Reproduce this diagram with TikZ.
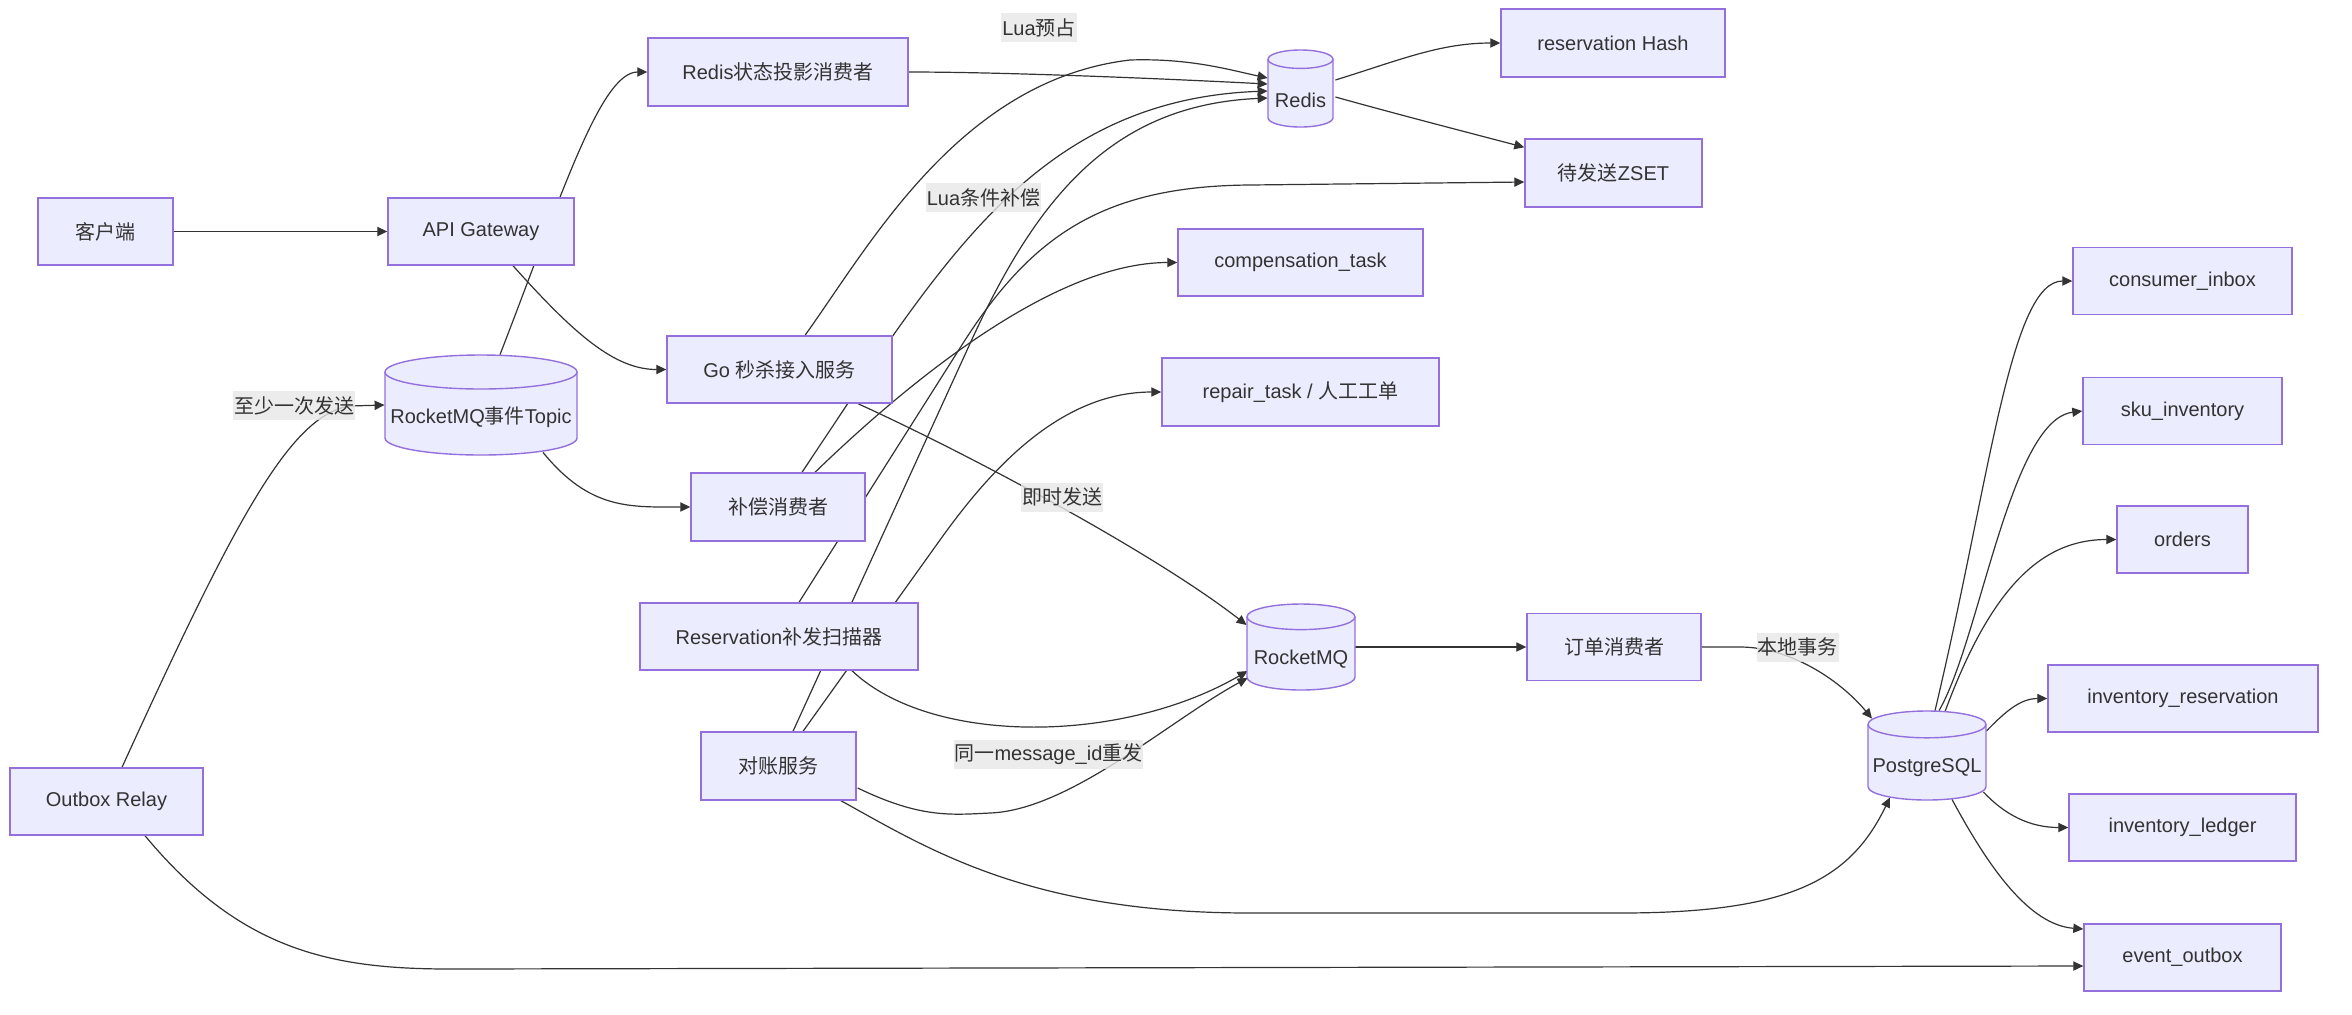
\documentclass[tikz,border=0pt]{standalone}
\usepackage{fontspec}
\setmainfont{Liberation Sans}
\newfontfamily\cjkfont{Noto Sans CJK SC}
\newcommand\zh[1]{{\cjkfont #1}}
\usetikzlibrary{arrows.meta,calc,backgrounds}
\definecolor{nodefill}{HTML}{ECECFF}
\definecolor{nodeline}{HTML}{9370DB}
\definecolor{edgecol}{HTML}{333333}
\definecolor{txt}{HTML}{333333}
\definecolor{lblbg}{HTML}{E8E8E8}
\newcommand\mycyl[5]{%
 \path[fill=nodefill, draw=nodeline, line width=0.7pt] ({#1-#4},{-#2-#5}) -- ({#1-#4},{-#3+#5}) arc[start angle=180, end angle=360, x radius=#4, y radius=#5] -- ({#1+#4},{-#2-#5}) arc[start angle=0, end angle=180, x radius=#4, y radius=#5] -- cycle;
 \draw[draw=nodeline, line width=0.7pt] ({#1-#4},{-#2-#5}) arc[start angle=180, end angle=360, x radius=#4, y radius=#5];
}
\begin{document}
\begin{tikzpicture}[x=0.5pt,y=0.5pt,
  box/.style={draw=nodeline, fill=nodefill, line width=0.7pt, minimum height=33.5pt, inner sep=0pt, text=txt, font=\fontsize{10pt}{12pt}\selectfont},
  cylshape/.style={inner sep=0pt, draw=none},
  ctext/.style={inner sep=0pt, text=txt, font=\fontsize{10pt}{12pt}\selectfont},
  lbl/.style={fill=lblbg, fill opacity=0.8, text opacity=1, inner xsep=0.5pt, inner ysep=0pt, minimum height=14.5pt, text=txt, font=\fontsize{10pt}{12pt}\selectfont},
  edge/.style={draw=edgecol, line width=0.6pt},
  arr/.style={edge, -{Triangle[length=5pt,width=4.6pt]}}
]
\useasboundingbox (0,0) rectangle (2352,-1014);

% boxes
\node[box, minimum width=67.5pt] (client) at (105.5,-231.5) {\zh{客户端}};
\node[box, minimum width=93pt] (gw) at (481,-231.5) {API Gateway};
\node[box, minimum width=130pt, minimum height=34pt] (rproj) at (778,-72) {Redis\zh{状态投影消费者}};
\node[box, minimum width=112.5pt] (go) at (779.5,-369.5) {Go \zh{秒杀接入服务}};
\node[box, minimum width=87pt, minimum height=34pt] (comp) at (778,-507) {\zh{补偿消费者}};
\node[box, minimum width=139pt] (scan) at (779,-636.5) {Reservation\zh{补发扫描器}};
\node[box, minimum width=77.5pt, minimum height=34pt] (recon) at (778.5,-766) {\zh{对账服务}};
\node[box, minimum width=96.5pt] (relay) at (106.5,-801.5) {Outbox Relay};
\node[box, minimum width=112pt, minimum height=34pt] (hash) at (1613,-43) {reservation Hash};
\node[box, minimum width=88.5pt, minimum height=34pt] (zset) at (1613.5,-173) {\zh{待发送}ZSET};
\node[box, minimum width=122.5pt] (ctask) at (1300.5,-262.5) {compensation\_task};
\node[box, minimum width=138.5pt, minimum height=34pt] (rtask) at (1300.5,-392) {repair\_task / \zh{人工工单}};
\node[box, minimum width=87pt] (ocons) at (1614,-647) {\zh{订单消费者}};
\node[box, minimum width=109.5pt] (inbox) at (2182.5,-281) {consumer\_inbox};
\node[box, minimum width=99.5pt] (sku) at (2182.5,-411) {sku\_inventory};
\node[box, minimum width=65.5pt] (orders) at (2182.5,-539.5) {orders};
\node[box, minimum width=135pt] (ires) at (2183,-698.5) {inventory\_reservation};
\node[box, minimum width=113.5pt] (iled) at (2182.5,-827.5) {inventory\_ledger};
\node[box, minimum width=98.5pt] (eout) at (2182.5,-957.5) {event\_outbox};

% cylinders
\mycyl{481}{355}{455}{96}{17}
\node[cylshape, minimum width=96pt, minimum height=50pt] (topic) at (481,-405) {};
\node[ctext] (topict) at (481,-417) {RocketMQ\zh{事件}Topic};
\mycyl{1300.5}{50}{127}{32.5}{9.2}
\node[cylshape, minimum width=32.5pt, minimum height=38.5pt] (redis) at (1300.5,-88.5) {};
\node[ctext] (redist) at (1300.5,-100.5) {Redis};
\mycyl{1301}{604}{690}{54}{12.8}
\node[cylshape, minimum width=54pt, minimum height=43pt] (mq) at (1301,-647) {};
\node[ctext] (mqt) at (1301,-659) {RocketMQ};
\mycyl{1927}{711}{800}{59}{13.4}
\node[cylshape, minimum width=59pt, minimum height=44.5pt] (pg) at (1927,-755.5) {};
\node[ctext] (pgt) at (1927,-767.5) {PostgreSQL};

% edge labels
\node[lbl] (l1) at (294,-405.5) {\zh{至少一次发送}};
\node[lbl] (l2) at (1039,-27.5) {Lua\zh{预占}};
\node[lbl] (l3) at (983.5,-197.5) {Lua\zh{条件补偿}};
\node[lbl] (l4) at (1062,-497) {\zh{即时发送}};
\node[lbl] (l5) at (1048.5,-754) {\zh{同一}message\_id\zh{重发}};
\node[lbl] (l6) at (1797.5,-647) {\zh{本地事务}};

\begin{scope}[on background layer]
\fill[white] (0,0) rectangle (2352,-1014);
\draw[arr] (client.east) -- (gw.west);
\draw[arr] ($(gw.south)+(32,0)$) .. controls (575,-335) and (615,-369.5) .. (go.west);
\draw[arr] ($(topic.north)+(19,0)$) .. controls (560,-200) and (600,-72) .. (rproj.west);
\draw[arr] ($(topic.south)+(62,3)$) .. controls (590,-510) and (630,-507) .. (comp.west);
\draw[arr] ($(relay.north)+(15.5,0)$) .. controls (235,-520) and (290,-415) .. (350,-406) -- (topic.west);
\draw[arr] ($(relay.south)+(38.5,0)$) .. controls (240,-950) and (330,-969) .. (450,-969) -- ($(eout.west)+(0,-8.5)$);
\draw[arr] (rproj.east) .. controls (1000,-72) and (1150,-78) .. ($(redis.west)+(0,4.5)$);
\draw[arr] ($(go.north)+(25.5,0)$) .. controls (870,-245) and (960,-80) .. (1130,-60) .. controls (1190,-58) and (1230,-70) .. ($(redis.west)+(0,10.5)$);
\draw[arr] ($(comp.north)+(24,0)$) -- (892,-337) .. controls (985,-205) and (1080,-98) .. ($(redis.west)+(0,-2.5)$);
\draw[arr] ($(recon.north)+(14.5,0)$) -- (968,-348) .. controls (1035,-200) and (1110,-105) .. ($(redis.west)+(0,-9.5)$);
\draw[arr] ($(comp.north)+(37,0)$) .. controls (900,-390) and (1050,-262.5) .. (ctask.west);
\draw[arr] ($(scan.north)+(20,0)$) -- (960,-348) .. controls (1029,-238) and (1100,-186) .. (1250,-185) -- ($(zset.west)+(0,-9)$);
\draw[arr] ($(recon.north)+(24.5,0)$) -- (940,-540) .. controls (990,-470) and (1060,-392) .. (rtask.west);
\draw[arr] ($(go.south)+(78.5,0)$) .. controls (960,-450) and (1150,-550) .. ($(mq.west)+(0,22)$);
\draw[arr] ($(scan.south)+(73,0)$) .. controls (930,-745) and (1120,-745) .. ($(mq.west)+(1,-24)$);
\draw[arr] ($(recon.east)+(1,-22)$) .. controls (920,-818) and (950,-815) .. (990,-813) .. controls (1070,-810) and (1170,-720) .. ($(mq.west)+(1,-31)$);
\draw[arr] ($(recon.south)+(62.5,0)$) .. controls (930,-850) and (1030,-913) .. (1250,-913) -- (1620,-913) .. controls (1790,-913) and (1850,-880) .. ($(pg.south)+(-37,3)$);
\draw[arr] (mq.east) -- (ocons.west);
\draw[arr] (ocons.east) -- (1740,-647) .. controls (1790,-647) and (1840,-680) .. ($(pg.north)+(-55,-8)$);
\draw[arr] ($(redis.east)+(2,8.5)$) .. controls (1400,-60) and (1440,-43) .. (hash.west);
\draw[arr] ($(redis.east)+(2,-8.5)$) .. controls (1400,-115) and (1470,-133) .. ($(zset.north west)+(0,-9)$);
\draw[arr] ($(pg.north)+(8,0)$) .. controls (1990,-480) and (2010,-281) .. (inbox.west);
\draw[arr] ($(pg.north)+(12,0)$) .. controls (1980,-640) and (2010,-420) .. (sku.west);
\draw[arr] ($(pg.north)+(18,-1)$) .. controls (1990,-590) and (2040,-539.5) .. (orders.west);
\draw[arr] ($(pg.east)+(0,24.5)$) .. controls (2005,-712) and (2020,-698.5) .. (ires.west);
\draw[arr] ($(pg.east)+(-3,-36.5)$) .. controls (2005,-815) and (2030,-827.5) .. (iled.west);
\draw[arr] ($(pg.south)+(25,1)$) .. controls (1990,-870) and (2030,-925) .. ($(eout.west)+(0,28.5)$);
\end{scope}
\end{tikzpicture}
\end{document}
